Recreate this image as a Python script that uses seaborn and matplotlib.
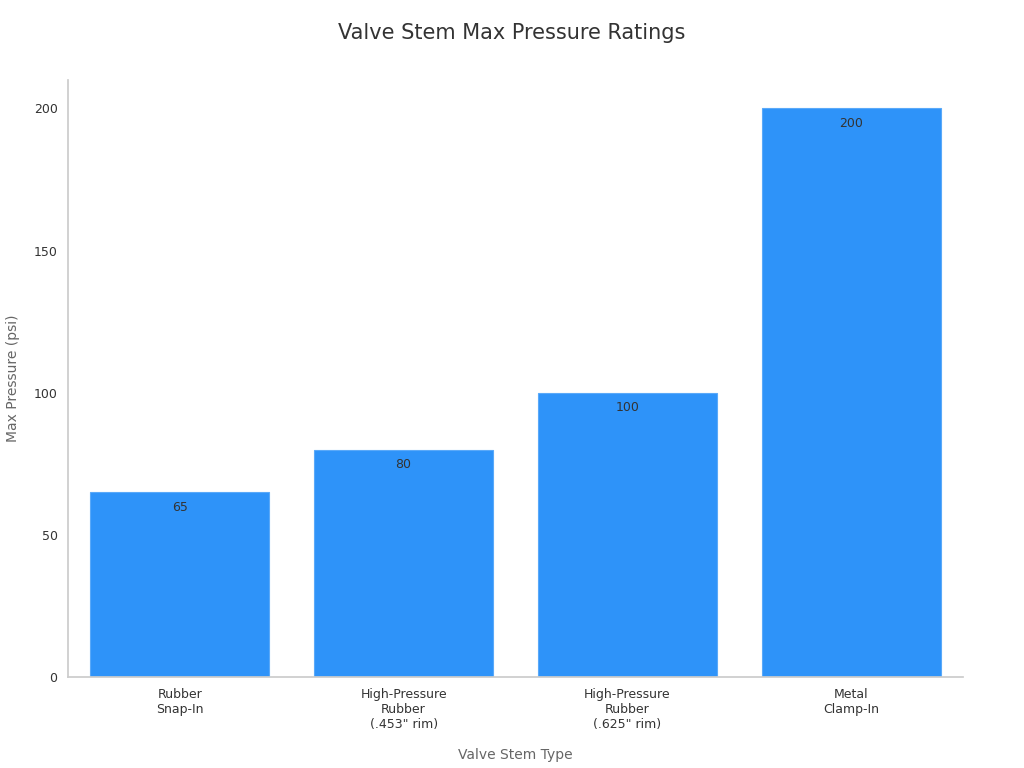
import matplotlib
matplotlib.use("Agg")
import matplotlib.pyplot as plt
import seaborn as sns
import pandas as pd

categories = ["Rubber\nSnap-In", "High-Pressure\nRubber\n(.453\" rim)", "High-Pressure\nRubber\n(.625\" rim)", "Metal\nClamp-In"]
values = [65, 80, 100, 200]

sns.set_theme(style="white")
plt.rcParams['font.family'] = ['DejaVu Sans']
df = pd.DataFrame({"cat": categories, "val": values})

fig = plt.figure(figsize=(10.24, 7.68), dpi=100)
ax = fig.add_axes([68/1024, 1-677/768, (963-68)/1024, (677-80)/768])
sns.barplot(data=df, x="cat", y="val", color="#2E93F9", saturation=1, width=0.8, ax=ax,
            edgecolor="#5aa9f9", linewidth=0.8)
ax.set_xlim(-0.5, 3.5)
ax.set_ylim(0, 210)
ax.set_yticks([0, 50, 100, 150, 200])
for i, v in enumerate(values):
    ax.text(i, v - 3, str(v), ha="center", va="top", fontsize=9, color="#333333")
ax.set_xlabel("Valve Stem Type", fontsize=10, color="#666666", labelpad=12)
ax.set_ylabel("Max Pressure (psi)", fontsize=10, color="#666666", labelpad=10)
ax.tick_params(axis="both", labelsize=9, colors="#333333", length=4)
ax.tick_params(axis="both", color="#aaaaaa")
ax.tick_params(axis="x", length=0, pad=8)
for s in ["top", "right"]:
    ax.spines[s].set_visible(False)
for s in ["left", "bottom"]:
    ax.spines[s].set_color("#cccccc")
fig.suptitle("Valve Stem Max Pressure Ratings", y=1-33/768, va="center", fontsize=15, color="#333333")
fig.savefig("out.png", dpi=100)
